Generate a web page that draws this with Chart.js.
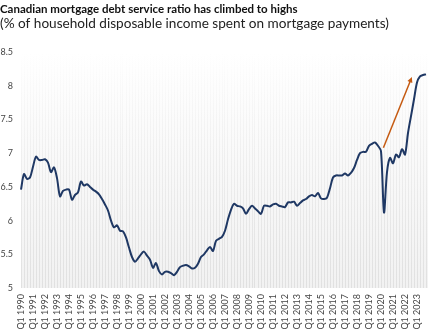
<!DOCTYPE html>
<html>
<head>
<meta charset="utf-8">
<script src="https://cdn.jsdelivr.net/npm/chart.js@4.4.1/dist/chart.umd.min.js"></script>
<style>
  html, body { margin: 0; padding: 0; background: #fff; }
  #wrap { width: 430px; height: 332px; position: relative; }
</style>
</head>
<body>
<div id="wrap"><canvas id="dsrChart"></canvas></div>
<script>
// quarters Q1 1990 .. Q4 2023
var firstYear = 1990, lastYear = 2023;
var quarters = [];
for (var y = firstYear; y <= lastYear; y++) {
  for (var q = 1; q <= 4; q++) quarters.push('Q' + q + ' ' + y);
}

// mortgage debt service ratio, % of disposable income
var debtService = [
  6.46, 6.69, 6.62, 6.64, 6.80, 6.95, 6.90, 6.90,
  6.91, 6.86, 6.72, 6.79, 6.63, 6.36, 6.44, 6.46,
  6.46, 6.31, 6.38, 6.42, 6.58, 6.52, 6.54, 6.50,
  6.46, 6.43, 6.39, 6.32, 6.24, 6.15, 6.00, 5.90,
  5.93, 5.85, 5.84, 5.75, 5.60, 5.46, 5.39, 5.44,
  5.50, 5.54, 5.48, 5.42, 5.30, 5.37, 5.25, 5.20,
  5.24, 5.24, 5.22, 5.19, 5.24, 5.31, 5.33, 5.34,
  5.32, 5.29, 5.30, 5.36, 5.46, 5.50, 5.56, 5.61,
  5.55, 5.70, 5.73, 5.76, 5.85, 6.02, 6.16, 6.25,
  6.22, 6.21, 6.18, 6.10, 6.17, 6.22, 6.18, 6.14,
  6.10, 6.22, 6.22, 6.21, 6.24, 6.25, 6.22, 6.21,
  6.20, 6.27, 6.27, 6.28, 6.22, 6.26, 6.30, 6.32,
  6.36, 6.38, 6.36, 6.41, 6.33, 6.32, 6.34, 6.48,
  6.64, 6.67, 6.67, 6.67, 6.70, 6.67, 6.71, 6.78,
  6.90, 7.00, 7.02, 7.02, 7.11, 7.14, 7.16, 7.11,
  7.03, 6.12, 6.72, 6.93, 6.85, 6.98, 6.94, 7.06,
  6.98, 7.30, 7.55, 7.80, 8.05, 8.14, 8.16, 8.17
];

var yTicks = [5, 5.5, 6, 6.5, 7, 7.5, 8, 8.5];

// orange trend arrow: [category index, value] at tail and head
var arrowFrom = [120.8, 7.08];
var arrowTo = [130.3, 8.13];

var navy = '#1f3864';
var orange = '#c55a11';

var plotBackground = {
  id: 'plotBackground',
  beforeDraw: function(chart) {
    var a = chart.chartArea, ctx = chart.ctx;
    var g = ctx.createLinearGradient(0, a.top, 0, a.bottom);
    g.addColorStop(0, '#ffffff');
    g.addColorStop(1, '#f2f2f2');
    ctx.save();
    ctx.fillStyle = g;
    ctx.fillRect(a.left, a.top, a.right - a.left + 2, a.bottom - a.top);
    ctx.restore();
  }
};

var trendArrow = {
  id: 'trendArrow',
  afterDatasetsDraw: function(chart) {
    var xs = chart.scales.x, ys = chart.scales.y, ctx = chart.ctx;
    var x0 = xs.getPixelForValue(arrowFrom[0]), y0 = ys.getPixelForValue(arrowFrom[1]);
    var x1 = xs.getPixelForValue(arrowTo[0]), y1 = ys.getPixelForValue(arrowTo[1]);
    var ang = Math.atan2(y1 - y0, x1 - x0), len = 6;
    ctx.save();
    ctx.strokeStyle = orange;
    ctx.fillStyle = orange;
    ctx.lineWidth = 1.5;
    ctx.beginPath();
    ctx.moveTo(x0, y0);
    ctx.lineTo(x1 - Math.cos(ang) * 4, y1 - Math.sin(ang) * 4);
    ctx.stroke();
    ctx.beginPath();
    ctx.moveTo(x1, y1);
    ctx.lineTo(x1 - len * Math.cos(ang - 0.45), y1 - len * Math.sin(ang - 0.45));
    ctx.lineTo(x1 - len * Math.cos(ang + 0.45), y1 - len * Math.sin(ang + 0.45));
    ctx.closePath();
    ctx.fill();
    ctx.restore();
  }
};

new Chart(document.getElementById('dsrChart').getContext('2d'), {
  type: 'line',
  data: {
    labels: quarters,
    datasets: [{
      data: debtService,
      borderColor: navy,
      borderWidth: 2,
      pointRadius: 0,
      tension: 0.3,
      fill: false
    }]
  },
  options: {
    responsive: true,
    maintainAspectRatio: false,
    animation: false,
    layout: { padding: { left: 0, right: 4, top: 0, bottom: 0 } },
    plugins: {
      legend: { display: false },
      tooltip: { enabled: false },
      title: {
        display: true,
        text: 'Canadian mortgage debt service ratio has climbed to highs',
        align: 'start',
        color: '#111',
        font: { family: 'Lato', size: 11.5, weight: 'bold' },
        padding: { top: 2, bottom: 0 }
      },
      subtitle: {
        display: true,
        text: '(% of household disposable income spent on mortgage payments)',
        align: 'start',
        color: '#222',
        font: { family: 'Lato', size: 13.6 },
        padding: { bottom: 20 }
      }
    },
    scales: {
      x: {
        border: { display: false },
        afterFit: function(s) { s.height = 44; s.paddingLeft = 0; s.paddingRight = 0; },
        grid: {
          drawTicks: false,
          lineWidth: 1,
          color: function(c) {
            var a = c.chart.chartArea;
            if (!a) return 'rgba(210,210,210,0.5)';
            var g = c.chart.ctx.createLinearGradient(0, a.top, 0, a.bottom);
            g.addColorStop(0, 'rgba(215,215,215,0)');
            g.addColorStop(0.45, 'rgba(215,215,215,0.3)');
            g.addColorStop(1, 'rgba(215,215,215,0.65)');
            return g;
          }
        },
        ticks: {
          autoSkip: false,
          minRotation: 90,
          maxRotation: 90,
          padding: 6,
          color: '#444',
          font: { family: 'Lato', size: 9 },
          callback: function(v, i) { return i % 4 === 0 ? quarters[i] : ''; }
        }
      },
      y: {
        min: 5,
        max: 8.5,
        border: { display: false },
        grid: { display: false, drawTicks: false },
        afterFit: function(s) { s.width = 21; },
        afterBuildTicks: function(s) { s.ticks = yTicks.map(function(v) { return { value: v }; }); },
        ticks: {
          padding: 8,
          color: '#444',
          font: { family: 'Lato', size: 9 },
          callback: function(v) { return String(v); }
        }
      }
    }
  },
  plugins: [plotBackground, trendArrow]
});
</script>
</body>
</html>
